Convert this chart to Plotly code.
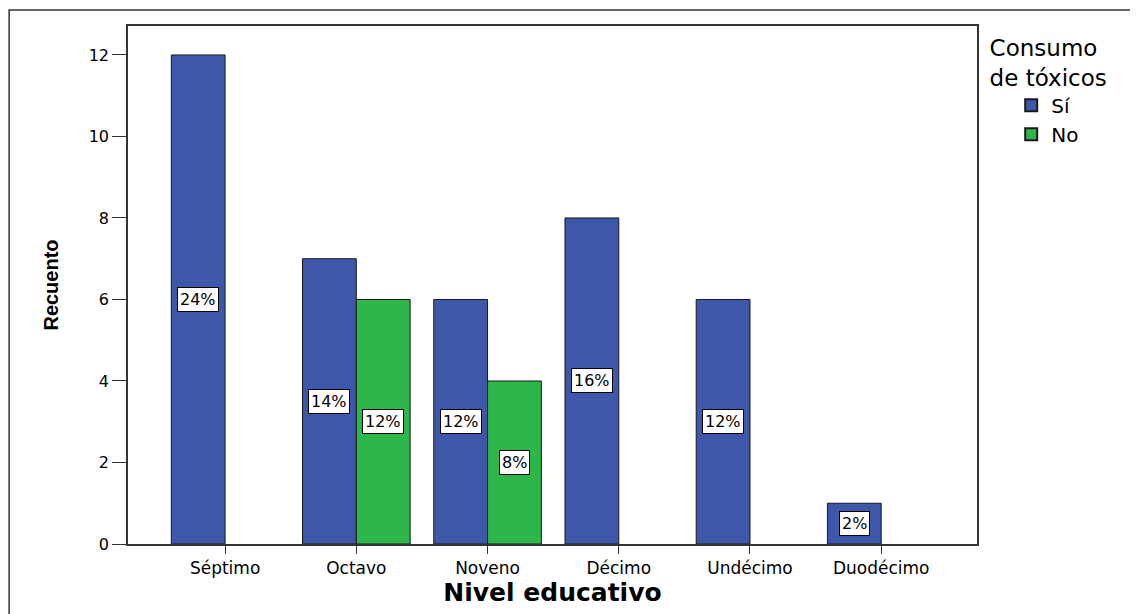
import plotly.graph_objects as go

# Data
niveles = ["Séptimo", "Octavo", "Noveno", "Décimo", "Undécimo", "Duodécimo"]
si_counts = [12, 7, 6, 8, 6, 1]
no_counts = [None, 6, 4, None, None, None]

total = sum(v for v in si_counts + no_counts if v)

BLUE = "#3D57AA"
GREEN = "#2DB64A"
FONT = "DejaVu Sans, Liberation Sans, Arial, sans-serif"
bar_w = 0.41  # width of each bar in category units

fig = go.Figure()
fig.add_trace(go.Bar(x=niveles, y=si_counts, name="Sí", marker=dict(color=BLUE, line=dict(color="#1a1a1a", width=1))))
fig.add_trace(go.Bar(x=niveles, y=no_counts, name="No", marker=dict(color=GREEN, line=dict(color="#1a1a1a", width=1))))

# percentage boxes in the middle of each bar
for i, (s, n) in enumerate(zip(si_counts, no_counts)):
    for val, off in ((s, -bar_w / 2), (n, bar_w / 2)):
        if not val:
            continue
        fig.add_annotation(x=i + off, y=val / 2, xref="x", yref="y",
                           text="%d%%" % round(100 * val / total), showarrow=False,
                           font=dict(family=FONT, size=16, color="black"),
                           bgcolor="white", bordercolor="black", borderwidth=1, borderpad=2)

# outer frame of the picture
fig.add_shape(type="rect", xref="paper", yref="paper",
              x0=-0.140, x1=1.25, y0=-0.2, y1=1.031,
              line=dict(color="#333333", width=1.5), fillcolor="rgba(0,0,0,0)", layer="below")

fig.update_layout(
    width=1138, height=614,
    margin=dict(l=120, r=169, t=18, b=78),
    paper_bgcolor="white", plot_bgcolor="white",
    barmode="group", bargap=0.18, bargroupgap=0,
    font=dict(family=FONT, size=16, color="black"),
    legend=dict(x=1.012, y=1.0, xanchor="left", yanchor="top",
                title=dict(text="Consumo<br>de tóxicos", side="top center", font=dict(size=23)),
                font=dict(size=20), indentation=24, tracegroupgap=0,
                itemsizing="constant", bgcolor="rgba(0,0,0,0)"),
    showlegend=True,
)
fig.update_xaxes(type="category", range=[-0.74, 5.73],
                 showline=True, linecolor="#333333", linewidth=1.5, mirror=True,
                 ticks="outside", ticklen=8, tickcolor="#333333",
                 tickfont=dict(size=17),
                 title=dict(text="<b>Nivel educativo</b>", font=dict(size=25), standoff=6))
fig.update_yaxes(range=[0, 12.71], dtick=2,
                 showline=True, linecolor="#333333", linewidth=1.5, mirror=True,
                 ticks="outside", ticklen=14, tickcolor="#333333",
                 showgrid=False, zeroline=False,
                 tickfont=dict(size=16),
                 title=dict(text="<b>Recuento</b>",
                            font=dict(size=20, family="Liberation Sans Narrow, Arial Narrow, Liberation Sans"),
                            standoff=25))

fig.write_html("out.html")
